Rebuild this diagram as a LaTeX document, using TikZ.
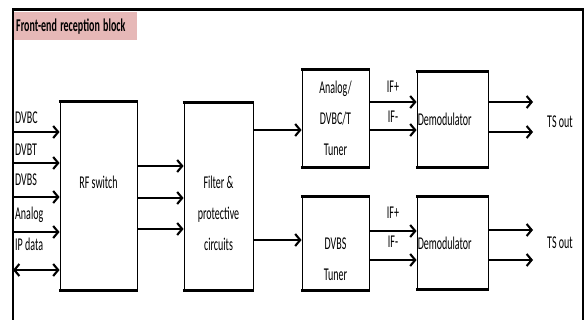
\documentclass[tikz,border=0pt]{standalone}
\usepackage{fontspec}
\setmainfont{Carlito}
\usepackage{graphicx}
\usepackage{tikz}
\usetikzlibrary{positioning, arrows.meta}

\definecolor{titlepink}{HTML}{E6B8B7}
\newcommand{\tall}[1]{\scalebox{1}[1.8]{#1}}

\tikzset{
    blk/.style={draw, rectangle, line width=0.9pt, inner sep=0pt},
    edge/.style={line width=2.6pt},
    arr/.style={line width=2.1pt, -{Straight Barb[length=5pt,width=12pt]}},
    txt/.style={font=\fontsize{10}{31}\selectfont, align=center, inner sep=1pt},
    lbl/.style={font=\fontsize{10}{12}\selectfont, inner sep=1pt}
}

\begin{document}
\begin{tikzpicture}[x=1pt, y=-1pt]
    \useasboundingbox (0,0) rectangle (585,320);

    % outer frame
    \draw [line width=2pt] (13,320) -- (13,10);
    \draw [line width=3pt] (12,10) -- (584,10);
    \draw [line width=1.2pt] (583,10) -- (583,320);

    \node [fill=titlepink, anchor=north west, minimum width=123pt, minimum height=28pt,
           text width=119pt, align=left, inner sep=2pt, font=\bfseries\fontsize{10}{12}\selectfont]
          (ttl) at (14,12) {\tall{Front-end reception block}};

    % blocks
    \node [blk, minimum width=77pt, minimum height=188pt] (rf) at (98.5,196) {};
    \node [blk, minimum width=69pt, minimum height=187pt] (flt) at (218.5,196.5) {};
    \node [blk, minimum width=67pt, minimum height=97pt] (tun1) at (335.5,118.5) {};
    \node [blk, minimum width=67pt, minimum height=93pt] (tun2) at (335.5,243.5) {};
    \node [blk, minimum width=71pt, minimum height=95pt] (dem1) at (452.5,119.5) {};
    \node [blk, minimum width=71pt, minimum height=92pt] (dem2) at (452.5,243) {};

    \foreach \b in {rf,flt,tun1,tun2,dem1,dem2}
        \draw [edge] ([xshift=-0.8pt]\b.north west) -- ([xshift=0.8pt]\b.north east)
                     ([xshift=-0.8pt]\b.south west) -- ([xshift=0.8pt]\b.south east);

    \node [txt] (rftxt) at ([yshift=14pt]rf.center) {\tall{RF switch}};
    \node [txt] (flttxt) at ([yshift=-17pt]flt.center) {\tall{Filter \&}\\\tall{protective}\\\tall{circuits}};
    \node [txt] (tun1txt) at (tun1.center) {\tall{Analog/}\\\tall{DVBC/T}\\\tall{Tuner}};
    \node [txt] (tun2txt) at ([yshift=-16pt]tun2.center) {\tall{DVBS}\\\tall{Tuner}};
    \node [lbl, anchor=west] (dem1txt) at (dem1.west) {\tall{Demodulator}};
    \node [lbl, anchor=west] (dem2txt) at (dem2.west) {\tall{Demodulator}};

    % inputs
    \foreach \y/\ly/\t [count=\i] in {132/118/DVBC, 163/150/DVBT, 197/180/DVBS, 232/215/Analog} {
        \coordinate (in\i) at (13,\y);
        \draw [arr] (in\i) -- (in\i -| rf.west);
        \node [lbl, anchor=west] (inl\i) at (14,\ly) {\tall{\t}};
    }
    \coordinate (in5) at (13,270);
    \draw [arr, {Straight Barb[length=5pt,width=12pt]}-{Straight Barb[length=5pt,width=12pt]}]
        (in5) -- (in5 -| rf.west);
    \node [lbl, anchor=west] (inl5) at (14,244) {\tall{IP data}};

    % rf switch to filter
    \foreach \y in {166,198,229}
        \draw [arr] (rf.east |- 0,\y) -- (flt.west |- 0,\y);

    % filter to tuners
    \draw [arr] (flt.east |- 0,130) -- (tun1.west |- 0,130);
    \draw [arr] (flt.east |- 0,240) -- (tun2.west |- 0,240);

    % tuners to demodulators
    \draw [arr] (tun1.east |- 0,102) -- (dem1.west |- 0,102);
    \draw [arr] (tun1.east |- 0,130) -- (dem1.west |- 0,130);
    \draw [arr] (tun2.east |- 0,231) -- (dem2.west |- 0,231);
    \draw [arr] (tun2.east |- 0,260) -- (dem2.west |- 0,260);
    \node [lbl] (ifp1) at (393,87) {\tall{IF+}};
    \node [lbl] (ifm1) at (393,117) {\tall{IF-}};
    \node [lbl] (ifp2) at (393,213) {\tall{IF+}};
    \node [lbl] (ifm2) at (393,242) {\tall{IF-}};

    % outputs
    \coordinate (out1) at (533,102);
    \coordinate (out2) at (533,132);
    \coordinate (out3) at (533,230);
    \coordinate (out4) at (533,260);
    \draw [arr] (dem1.east |- out1) -- (out1);
    \draw [arr] (dem1.east |- out2) -- (out2);
    \draw [arr] (dem2.east |- out3) -- (out3);
    \draw [arr] (dem2.east |- out4) -- (out4);
    \node [lbl] (ts1) at (560,122) {\tall{TS out}};
    \node [lbl] (ts2) at (560,243) {\tall{TS out}};
\end{tikzpicture}
\end{document}
